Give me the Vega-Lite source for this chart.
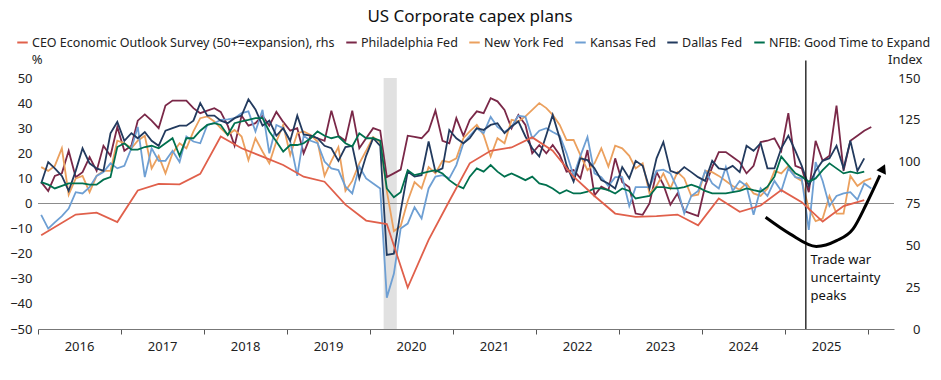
{
"$schema": "https://vega.github.io/schema/vega-lite/v6.json",
"width": 856, "height": 251,
"autosize": {"type": "none"},
"padding": {"left": 38, "top": 78, "right": 47, "bottom": 51},
"background": "white",
"config": {"view": {"stroke": null}, "font": "Noto Sans"},
"title": {"text": "US Corporate capex plans", "fontSize": 17, "fontWeight": "normal", "color": "#111", "anchor": "middle", "offset": 10, "dx": 4},
"datasets": {
"fed": [
{"d":"2016-01-15","s":"P","v":8.5},{"d":"2016-02-15","s":"P","v":5},{"d":"2016-03-15","s":"P","v":11},{"d":"2016-04-15","s":"P","v":12},{"d":"2016-05-15","s":"P","v":21},{"d":"2016-06-15","s":"P","v":10.5},{"d":"2016-07-15","s":"P","v":12.5},{"d":"2016-08-15","s":"P","v":18.5},{"d":"2016-09-15","s":"P","v":13},{"d":"2016-10-15","s":"P","v":23},{"d":"2016-11-15","s":"P","v":19},{"d":"2016-12-15","s":"P","v":30.5},
{"d":"2017-01-15","s":"P","v":21},{"d":"2017-02-15","s":"P","v":23},{"d":"2017-03-15","s":"P","v":33},{"d":"2017-04-15","s":"P","v":35.5},{"d":"2017-05-15","s":"P","v":33},{"d":"2017-06-15","s":"P","v":30},{"d":"2017-07-15","s":"P","v":39},{"d":"2017-08-15","s":"P","v":41},{"d":"2017-09-15","s":"P","v":41},{"d":"2017-10-15","s":"P","v":41},{"d":"2017-11-15","s":"P","v":38},{"d":"2017-12-15","s":"P","v":36},
{"d":"2018-01-15","s":"P","v":37},{"d":"2018-02-15","s":"P","v":38},{"d":"2018-03-15","s":"P","v":36.5},{"d":"2018-04-15","s":"P","v":31},{"d":"2018-05-15","s":"P","v":23},{"d":"2018-06-15","s":"P","v":35},{"d":"2018-07-15","s":"P","v":31},{"d":"2018-08-15","s":"P","v":32},{"d":"2018-09-15","s":"P","v":35},{"d":"2018-10-15","s":"P","v":31},{"d":"2018-11-15","s":"P","v":36.5},{"d":"2018-12-15","s":"P","v":32.5},
{"d":"2019-01-15","s":"P","v":29},{"d":"2019-02-15","s":"P","v":30},{"d":"2019-03-15","s":"P","v":20},{"d":"2019-04-15","s":"P","v":27},{"d":"2019-05-15","s":"P","v":26},{"d":"2019-06-15","s":"P","v":25},{"d":"2019-07-15","s":"P","v":37},{"d":"2019-08-15","s":"P","v":27},{"d":"2019-09-15","s":"P","v":25},{"d":"2019-10-15","s":"P","v":37},{"d":"2019-11-15","s":"P","v":22},{"d":"2019-12-15","s":"P","v":26},
{"d":"2020-01-15","s":"P","v":30},{"d":"2020-02-15","s":"P","v":29},{"d":"2020-03-15","s":"P","v":10.5},{"d":"2020-04-15","s":"P","v":12},{"d":"2020-05-15","s":"P","v":13.5},{"d":"2020-06-15","s":"P","v":27},{"d":"2020-07-15","s":"P","v":26.5},{"d":"2020-08-15","s":"P","v":26},{"d":"2020-09-15","s":"P","v":29},{"d":"2020-10-15","s":"P","v":37},{"d":"2020-11-15","s":"P","v":25},{"d":"2020-12-15","s":"P","v":24},
{"d":"2021-01-15","s":"P","v":34},{"d":"2021-02-15","s":"P","v":27},{"d":"2021-03-15","s":"P","v":33.3},{"d":"2021-04-15","s":"P","v":36.7},{"d":"2021-05-15","s":"P","v":36},{"d":"2021-06-15","s":"P","v":42},{"d":"2021-07-15","s":"P","v":40.7},{"d":"2021-08-15","s":"P","v":37.3},{"d":"2021-09-15","s":"P","v":30},{"d":"2021-10-15","s":"P","v":35.3},{"d":"2021-11-15","s":"P","v":31.3},{"d":"2021-12-15","s":"P","v":20},
{"d":"2022-01-15","s":"P","v":23.3},{"d":"2022-02-15","s":"P","v":20},{"d":"2022-03-15","s":"P","v":23.3},{"d":"2022-04-15","s":"P","v":19.3},{"d":"2022-05-15","s":"P","v":12.7},{"d":"2022-06-15","s":"P","v":13.3},{"d":"2022-07-15","s":"P","v":10},{"d":"2022-08-15","s":"P","v":21.3},{"d":"2022-09-15","s":"P","v":3.3},{"d":"2022-10-15","s":"P","v":6.7},{"d":"2022-11-15","s":"P","v":5.3},{"d":"2022-12-15","s":"P","v":18},
{"d":"2023-01-15","s":"P","v":8.5},{"d":"2023-02-15","s":"P","v":6.5},{"d":"2023-03-15","s":"P","v":-4},{"d":"2023-04-15","s":"P","v":-4.5},{"d":"2023-05-15","s":"P","v":0},{"d":"2023-06-15","s":"P","v":12.5},{"d":"2023-07-15","s":"P","v":7.5},{"d":"2023-08-15","s":"P","v":-0.5},{"d":"2023-09-15","s":"P","v":4},{"d":"2023-10-15","s":"P","v":-3},{"d":"2023-11-15","s":"P","v":-4},{"d":"2023-12-15","s":"P","v":-5},
{"d":"2024-01-15","s":"P","v":7},{"d":"2024-02-15","s":"P","v":14.5},{"d":"2024-03-15","s":"P","v":20.5},{"d":"2024-04-15","s":"P","v":20.5},{"d":"2024-05-15","s":"P","v":18.5},{"d":"2024-06-15","s":"P","v":16.5},{"d":"2024-07-15","s":"P","v":12},{"d":"2024-08-15","s":"P","v":15},{"d":"2024-09-15","s":"P","v":24.5},{"d":"2024-10-15","s":"P","v":25},{"d":"2024-11-15","s":"P","v":26},{"d":"2024-12-15","s":"P","v":21},
{"d":"2025-01-15","s":"P","v":36},{"d":"2025-02-15","s":"P","v":15},{"d":"2025-03-15","s":"P","v":14},{"d":"2025-04-15","s":"P","v":4.5},{"d":"2025-05-15","s":"P","v":25},{"d":"2025-06-15","s":"P","v":17},{"d":"2025-07-15","s":"P","v":19},{"d":"2025-08-15","s":"P","v":39},{"d":"2025-09-15","s":"P","v":13},{"d":"2025-10-15","s":"P","v":25},{"d":"2025-11-15","s":"P","v":27},{"d":"2025-12-15","s":"P","v":29},{"d":"2026-01-15","s":"P","v":30.5},

{"d":"2016-01-15","s":"N","v":14.5},{"d":"2016-02-15","s":"N","v":13},{"d":"2016-03-15","s":"N","v":15},{"d":"2016-04-15","s":"N","v":22},{"d":"2016-05-15","s":"N","v":3.5},{"d":"2016-06-15","s":"N","v":10},{"d":"2016-07-15","s":"N","v":11},{"d":"2016-08-15","s":"N","v":4.5},{"d":"2016-09-15","s":"N","v":11},{"d":"2016-10-15","s":"N","v":13},{"d":"2016-11-15","s":"N","v":13},{"d":"2016-12-15","s":"N","v":25},
{"d":"2017-01-15","s":"N","v":24},{"d":"2017-02-15","s":"N","v":22},{"d":"2017-03-15","s":"N","v":25},{"d":"2017-04-15","s":"N","v":27},{"d":"2017-05-15","s":"N","v":14},{"d":"2017-06-15","s":"N","v":19},{"d":"2017-07-15","s":"N","v":12},{"d":"2017-08-15","s":"N","v":20},{"d":"2017-09-15","s":"N","v":24},{"d":"2017-10-15","s":"N","v":22},{"d":"2017-11-15","s":"N","v":28.7},{"d":"2017-12-15","s":"N","v":34},
{"d":"2018-01-15","s":"N","v":34.7},{"d":"2018-02-15","s":"N","v":32.7},{"d":"2018-03-15","s":"N","v":30},{"d":"2018-04-15","s":"N","v":27.3},{"d":"2018-05-15","s":"N","v":29.3},{"d":"2018-06-15","s":"N","v":26.7},{"d":"2018-07-15","s":"N","v":17.3},{"d":"2018-08-15","s":"N","v":26},{"d":"2018-09-15","s":"N","v":20.7},{"d":"2018-10-15","s":"N","v":16},{"d":"2018-11-15","s":"N","v":24.7},{"d":"2018-12-15","s":"N","v":31.3},
{"d":"2019-01-15","s":"N","v":19.3},{"d":"2019-02-15","s":"N","v":28},{"d":"2019-03-15","s":"N","v":28.7},{"d":"2019-04-15","s":"N","v":27.3},{"d":"2019-05-15","s":"N","v":24.7},{"d":"2019-06-15","s":"N","v":11},{"d":"2019-07-15","s":"N","v":17},{"d":"2019-08-15","s":"N","v":22.5},{"d":"2019-09-15","s":"N","v":5},{"d":"2019-10-15","s":"N","v":9},{"d":"2019-11-15","s":"N","v":16},{"d":"2019-12-15","s":"N","v":21},
{"d":"2020-01-15","s":"N","v":26.5},{"d":"2020-02-15","s":"N","v":24.5},{"d":"2020-03-15","s":"N","v":5},{"d":"2020-04-15","s":"N","v":-11},{"d":"2020-05-15","s":"N","v":-9},{"d":"2020-06-15","s":"N","v":1},{"d":"2020-07-15","s":"N","v":8.5},{"d":"2020-08-15","s":"N","v":6},{"d":"2020-09-15","s":"N","v":14.5},{"d":"2020-10-15","s":"N","v":12},{"d":"2020-11-15","s":"N","v":17},{"d":"2020-12-15","s":"N","v":16.5},
{"d":"2021-01-15","s":"N","v":18},{"d":"2021-02-15","s":"N","v":26},{"d":"2021-03-15","s":"N","v":28.7},{"d":"2021-04-15","s":"N","v":31.3},{"d":"2021-05-15","s":"N","v":27.3},{"d":"2021-06-15","s":"N","v":18.7},{"d":"2021-07-15","s":"N","v":26},{"d":"2021-08-15","s":"N","v":24},{"d":"2021-09-15","s":"N","v":33.3},{"d":"2021-10-15","s":"N","v":32.7},{"d":"2021-11-15","s":"N","v":34.7},{"d":"2021-12-15","s":"N","v":37.3},
{"d":"2022-01-15","s":"N","v":40},{"d":"2022-02-15","s":"N","v":38},{"d":"2022-03-15","s":"N","v":35.3},{"d":"2022-04-15","s":"N","v":31.3},{"d":"2022-05-15","s":"N","v":25.3},{"d":"2022-06-15","s":"N","v":25.3},{"d":"2022-07-15","s":"N","v":19.3},{"d":"2022-08-15","s":"N","v":13.3},{"d":"2022-09-15","s":"N","v":16},{"d":"2022-10-15","s":"N","v":22},{"d":"2022-11-15","s":"N","v":14.7},{"d":"2022-12-15","s":"N","v":23},
{"d":"2023-01-15","s":"N","v":22},{"d":"2023-02-15","s":"N","v":19},{"d":"2023-03-15","s":"N","v":14},{"d":"2023-04-15","s":"N","v":16},{"d":"2023-05-15","s":"N","v":4},{"d":"2023-06-15","s":"N","v":7},{"d":"2023-07-15","s":"N","v":12},{"d":"2023-08-15","s":"N","v":6},{"d":"2023-09-15","s":"N","v":12.5},{"d":"2023-10-15","s":"N","v":10},{"d":"2023-11-15","s":"N","v":3},{"d":"2023-12-15","s":"N","v":3.5},
{"d":"2024-01-15","s":"N","v":13},{"d":"2024-02-15","s":"N","v":12.5},{"d":"2024-03-15","s":"N","v":11},{"d":"2024-04-15","s":"N","v":9},{"d":"2024-05-15","s":"N","v":7},{"d":"2024-06-15","s":"N","v":5.5},{"d":"2024-07-15","s":"N","v":8},{"d":"2024-08-15","s":"N","v":4},{"d":"2024-09-15","s":"N","v":3},{"d":"2024-10-15","s":"N","v":6},{"d":"2024-11-15","s":"N","v":13},{"d":"2024-12-15","s":"N","v":12},
{"d":"2025-01-15","s":"N","v":15},{"d":"2025-02-15","s":"N","v":10.5},{"d":"2025-03-15","s":"N","v":9},{"d":"2025-04-15","s":"N","v":-2},{"d":"2025-05-15","s":"N","v":-7},{"d":"2025-06-15","s":"N","v":-6},{"d":"2025-07-15","s":"N","v":3},{"d":"2025-08-15","s":"N","v":-4},{"d":"2025-09-15","s":"N","v":-4},{"d":"2025-10-15","s":"N","v":11},{"d":"2025-11-15","s":"N","v":7},{"d":"2025-12-15","s":"N","v":9},{"d":"2026-01-15","s":"N","v":10},

{"d":"2016-01-15","s":"K","v":-4.5},{"d":"2016-02-15","s":"K","v":-10},{"d":"2016-03-15","s":"K","v":-7.5},{"d":"2016-04-15","s":"K","v":-5},{"d":"2016-05-15","s":"K","v":-2},{"d":"2016-06-15","s":"K","v":4.5},{"d":"2016-07-15","s":"K","v":4},{"d":"2016-08-15","s":"K","v":6.5},{"d":"2016-09-15","s":"K","v":11},{"d":"2016-10-15","s":"K","v":12.5},{"d":"2016-11-15","s":"K","v":16},{"d":"2016-12-15","s":"K","v":14},
{"d":"2017-01-15","s":"K","v":15},{"d":"2017-02-15","s":"K","v":22},{"d":"2017-03-15","s":"K","v":30.5},{"d":"2017-04-15","s":"K","v":10.5},{"d":"2017-05-15","s":"K","v":22},{"d":"2017-06-15","s":"K","v":17},{"d":"2017-07-15","s":"K","v":17},{"d":"2017-08-15","s":"K","v":21},{"d":"2017-09-15","s":"K","v":16.5},{"d":"2017-10-15","s":"K","v":26.7},{"d":"2017-11-15","s":"K","v":24.7},{"d":"2017-12-15","s":"K","v":24},
{"d":"2018-01-15","s":"K","v":31.3},{"d":"2018-02-15","s":"K","v":32},{"d":"2018-03-15","s":"K","v":33.3},{"d":"2018-04-15","s":"K","v":33.5},{"d":"2018-05-15","s":"K","v":34},{"d":"2018-06-15","s":"K","v":36},{"d":"2018-07-15","s":"K","v":36.7},{"d":"2018-08-15","s":"K","v":28.7},{"d":"2018-09-15","s":"K","v":37.3},{"d":"2018-10-15","s":"K","v":20},{"d":"2018-11-15","s":"K","v":31.3},{"d":"2018-12-15","s":"K","v":30},
{"d":"2019-01-15","s":"K","v":24.7},{"d":"2019-02-15","s":"K","v":11},{"d":"2019-03-15","s":"K","v":27},{"d":"2019-04-15","s":"K","v":25},{"d":"2019-05-15","s":"K","v":24},{"d":"2019-06-15","s":"K","v":16.7},{"d":"2019-07-15","s":"K","v":14},{"d":"2019-08-15","s":"K","v":13.3},{"d":"2019-09-15","s":"K","v":6.7},{"d":"2019-10-15","s":"K","v":4},{"d":"2019-11-15","s":"K","v":14.7},{"d":"2019-12-15","s":"K","v":10},
{"d":"2020-01-15","s":"K","v":8},{"d":"2020-02-15","s":"K","v":6},{"d":"2020-03-15","s":"K","v":-37.5},{"d":"2020-04-15","s":"K","v":-28},{"d":"2020-05-15","s":"K","v":-10},{"d":"2020-06-15","s":"K","v":-8},{"d":"2020-07-15","s":"K","v":-1.5},{"d":"2020-08-15","s":"K","v":-6},{"d":"2020-09-15","s":"K","v":6},{"d":"2020-10-15","s":"K","v":10.7},{"d":"2020-11-15","s":"K","v":11.3},{"d":"2020-12-15","s":"K","v":10},
{"d":"2021-01-15","s":"K","v":15.3},{"d":"2021-02-15","s":"K","v":24},{"d":"2021-03-15","s":"K","v":27},{"d":"2021-04-15","s":"K","v":30},{"d":"2021-05-15","s":"K","v":28},{"d":"2021-06-15","s":"K","v":34.5},{"d":"2021-07-15","s":"K","v":30.5},{"d":"2021-08-15","s":"K","v":28.5},{"d":"2021-09-15","s":"K","v":30.5},{"d":"2021-10-15","s":"K","v":35},{"d":"2021-11-15","s":"K","v":34.5},{"d":"2021-12-15","s":"K","v":26},
{"d":"2022-01-15","s":"K","v":29},{"d":"2022-02-15","s":"K","v":30},{"d":"2022-03-15","s":"K","v":28.5},{"d":"2022-04-15","s":"K","v":27},{"d":"2022-05-15","s":"K","v":20},{"d":"2022-06-15","s":"K","v":11},{"d":"2022-07-15","s":"K","v":19},{"d":"2022-08-15","s":"K","v":26.5},{"d":"2022-09-15","s":"K","v":12},{"d":"2022-10-15","s":"K","v":10.5},{"d":"2022-11-15","s":"K","v":7},{"d":"2022-12-15","s":"K","v":10.5},
{"d":"2023-01-15","s":"K","v":10.5},{"d":"2023-02-15","s":"K","v":-1},{"d":"2023-03-15","s":"K","v":6.5},{"d":"2023-04-15","s":"K","v":6.5},{"d":"2023-05-15","s":"K","v":6.5},{"d":"2023-06-15","s":"K","v":13},{"d":"2023-07-15","s":"K","v":13.5},{"d":"2023-08-15","s":"K","v":12},{"d":"2023-09-15","s":"K","v":6},{"d":"2023-10-15","s":"K","v":-4},{"d":"2023-11-15","s":"K","v":3},{"d":"2023-12-15","s":"K","v":5},
{"d":"2024-01-15","s":"K","v":13},{"d":"2024-02-15","s":"K","v":8},{"d":"2024-03-15","s":"K","v":6},{"d":"2024-04-15","s":"K","v":14.5},{"d":"2024-05-15","s":"K","v":5},{"d":"2024-06-15","s":"K","v":9},{"d":"2024-07-15","s":"K","v":7},{"d":"2024-08-15","s":"K","v":-4.5},{"d":"2024-09-15","s":"K","v":6},{"d":"2024-10-15","s":"K","v":3},{"d":"2024-11-15","s":"K","v":9},{"d":"2024-12-15","s":"K","v":5},
{"d":"2025-01-15","s":"K","v":14},{"d":"2025-02-15","s":"K","v":10.5},{"d":"2025-03-15","s":"K","v":10},{"d":"2025-04-15","s":"K","v":-10.5},{"d":"2025-05-15","s":"K","v":16.5},{"d":"2025-06-15","s":"K","v":9},{"d":"2025-07-15","s":"K","v":-1},{"d":"2025-08-15","s":"K","v":3},{"d":"2025-09-15","s":"K","v":4},{"d":"2025-10-15","s":"K","v":4.5},{"d":"2025-11-15","s":"K","v":1.5},{"d":"2025-12-15","s":"K","v":8},{"d":"2026-01-15","s":"K","v":6},

{"d":"2016-01-15","s":"D","v":8},{"d":"2016-02-15","s":"D","v":16.5},{"d":"2016-03-15","s":"D","v":14},{"d":"2016-04-15","s":"D","v":11},{"d":"2016-05-15","s":"D","v":5},{"d":"2016-06-15","s":"D","v":13},{"d":"2016-07-15","s":"D","v":22},{"d":"2016-08-15","s":"D","v":16},{"d":"2016-09-15","s":"D","v":14},{"d":"2016-10-15","s":"D","v":13},{"d":"2016-11-15","s":"D","v":28},{"d":"2016-12-15","s":"D","v":32.5},
{"d":"2017-01-15","s":"D","v":25},{"d":"2017-02-15","s":"D","v":28},{"d":"2017-03-15","s":"D","v":26},{"d":"2017-04-15","s":"D","v":28.5},{"d":"2017-05-15","s":"D","v":25},{"d":"2017-06-15","s":"D","v":23},{"d":"2017-07-15","s":"D","v":29},{"d":"2017-08-15","s":"D","v":30},{"d":"2017-09-15","s":"D","v":31},{"d":"2017-10-15","s":"D","v":31},{"d":"2017-11-15","s":"D","v":33},{"d":"2017-12-15","s":"D","v":40},
{"d":"2018-01-15","s":"D","v":35},{"d":"2018-02-15","s":"D","v":35},{"d":"2018-03-15","s":"D","v":33},{"d":"2018-04-15","s":"D","v":32},{"d":"2018-05-15","s":"D","v":34},{"d":"2018-06-15","s":"D","v":35},{"d":"2018-07-15","s":"D","v":41.5},{"d":"2018-08-15","s":"D","v":37.5},{"d":"2018-09-15","s":"D","v":31},{"d":"2018-10-15","s":"D","v":33},{"d":"2018-11-15","s":"D","v":27},{"d":"2018-12-15","s":"D","v":30},
{"d":"2019-01-15","s":"D","v":25},{"d":"2019-02-15","s":"D","v":35},{"d":"2019-03-15","s":"D","v":27.5},{"d":"2019-04-15","s":"D","v":27},{"d":"2019-05-15","s":"D","v":26},{"d":"2019-06-15","s":"D","v":23},{"d":"2019-07-15","s":"D","v":22},{"d":"2019-08-15","s":"D","v":17},{"d":"2019-09-15","s":"D","v":22.5},{"d":"2019-10-15","s":"D","v":23},{"d":"2019-11-15","s":"D","v":10},{"d":"2019-12-15","s":"D","v":19},
{"d":"2020-01-15","s":"D","v":26},{"d":"2020-02-15","s":"D","v":23},{"d":"2020-03-15","s":"D","v":-20.5},{"d":"2020-04-15","s":"D","v":-20},{"d":"2020-05-15","s":"D","v":-3},{"d":"2020-06-15","s":"D","v":12.7},{"d":"2020-07-15","s":"D","v":10.7},{"d":"2020-08-15","s":"D","v":11.3},{"d":"2020-09-15","s":"D","v":24.7},{"d":"2020-10-15","s":"D","v":12.7},{"d":"2020-11-15","s":"D","v":14},{"d":"2020-12-15","s":"D","v":29.3},
{"d":"2021-01-15","s":"D","v":26},{"d":"2021-02-15","s":"D","v":24},{"d":"2021-03-15","s":"D","v":26},{"d":"2021-04-15","s":"D","v":30},{"d":"2021-05-15","s":"D","v":29.3},{"d":"2021-06-15","s":"D","v":31.3},{"d":"2021-07-15","s":"D","v":32},{"d":"2021-08-15","s":"D","v":28},{"d":"2021-09-15","s":"D","v":30.7},{"d":"2021-10-15","s":"D","v":32.7},{"d":"2021-11-15","s":"D","v":26.7},{"d":"2021-12-15","s":"D","v":22},
{"d":"2022-01-15","s":"D","v":18.7},{"d":"2022-02-15","s":"D","v":27.3},{"d":"2022-03-15","s":"D","v":35.3},{"d":"2022-04-15","s":"D","v":26},{"d":"2022-05-15","s":"D","v":15.3},{"d":"2022-06-15","s":"D","v":8.7},{"d":"2022-07-15","s":"D","v":18},{"d":"2022-08-15","s":"D","v":17.3},{"d":"2022-09-15","s":"D","v":14},{"d":"2022-10-15","s":"D","v":9.3},{"d":"2022-11-15","s":"D","v":8},{"d":"2022-12-15","s":"D","v":6},
{"d":"2023-01-15","s":"D","v":14.5},{"d":"2023-02-15","s":"D","v":10},{"d":"2023-03-15","s":"D","v":17},{"d":"2023-04-15","s":"D","v":15},{"d":"2023-05-15","s":"D","v":6},{"d":"2023-06-15","s":"D","v":18},{"d":"2023-07-15","s":"D","v":24.5},{"d":"2023-08-15","s":"D","v":13},{"d":"2023-09-15","s":"D","v":12},{"d":"2023-10-15","s":"D","v":14.5},{"d":"2023-11-15","s":"D","v":12.5},{"d":"2023-12-15","s":"D","v":10.5},
{"d":"2024-01-15","s":"D","v":9},{"d":"2024-02-15","s":"D","v":17},{"d":"2024-03-15","s":"D","v":14},{"d":"2024-04-15","s":"D","v":13.5},{"d":"2024-05-15","s":"D","v":15},{"d":"2024-06-15","s":"D","v":12.5},{"d":"2024-07-15","s":"D","v":23},{"d":"2024-08-15","s":"D","v":21},{"d":"2024-09-15","s":"D","v":24},{"d":"2024-10-15","s":"D","v":14},{"d":"2024-11-15","s":"D","v":14},{"d":"2024-12-15","s":"D","v":22},
{"d":"2025-01-15","s":"D","v":27},{"d":"2025-02-15","s":"D","v":21},{"d":"2025-03-15","s":"D","v":15},{"d":"2025-04-15","s":"D","v":7},{"d":"2025-05-15","s":"D","v":13},{"d":"2025-06-15","s":"D","v":17},{"d":"2025-07-15","s":"D","v":18},{"d":"2025-08-15","s":"D","v":23},{"d":"2025-09-15","s":"D","v":14},{"d":"2025-10-15","s":"D","v":25},{"d":"2025-11-15","s":"D","v":13},{"d":"2025-12-15","s":"D","v":18},

{"d":"2016-01-15","s":"F","v":8.5},{"d":"2016-02-15","s":"F","v":7.5},{"d":"2016-03-15","s":"F","v":6},{"d":"2016-04-15","s":"F","v":7},{"d":"2016-05-15","s":"F","v":8},{"d":"2016-06-15","s":"F","v":8},{"d":"2016-07-15","s":"F","v":8},{"d":"2016-08-15","s":"F","v":7.5},{"d":"2016-09-15","s":"F","v":7.5},{"d":"2016-10-15","s":"F","v":9.5},{"d":"2016-11-15","s":"F","v":10.5},{"d":"2016-12-15","s":"F","v":22.5},
{"d":"2017-01-15","s":"F","v":24},{"d":"2017-02-15","s":"F","v":21.5},{"d":"2017-03-15","s":"F","v":21.5},{"d":"2017-04-15","s":"F","v":22.5},{"d":"2017-05-15","s":"F","v":23},{"d":"2017-06-15","s":"F","v":22},{"d":"2017-07-15","s":"F","v":24},{"d":"2017-08-15","s":"F","v":26},{"d":"2017-09-15","s":"F","v":19},{"d":"2017-10-15","s":"F","v":26},{"d":"2017-11-15","s":"F","v":26},{"d":"2017-12-15","s":"F","v":29},
{"d":"2018-01-15","s":"F","v":31.3},{"d":"2018-02-15","s":"F","v":32},{"d":"2018-03-15","s":"F","v":31.3},{"d":"2018-04-15","s":"F","v":27.3},{"d":"2018-05-15","s":"F","v":32},{"d":"2018-06-15","s":"F","v":32.7},{"d":"2018-07-15","s":"F","v":33.3},{"d":"2018-08-15","s":"F","v":34},{"d":"2018-09-15","s":"F","v":34},{"d":"2018-10-15","s":"F","v":28.7},{"d":"2018-11-15","s":"F","v":24.7},{"d":"2018-12-15","s":"F","v":20.7},
{"d":"2019-01-15","s":"F","v":23.3},{"d":"2019-02-15","s":"F","v":23.3},{"d":"2019-03-15","s":"F","v":24},{"d":"2019-04-15","s":"F","v":26},{"d":"2019-05-15","s":"F","v":28.7},{"d":"2019-06-15","s":"F","v":27},{"d":"2019-07-15","s":"F","v":26},{"d":"2019-08-15","s":"F","v":26.7},{"d":"2019-09-15","s":"F","v":24},{"d":"2019-10-15","s":"F","v":22.7},{"d":"2019-11-15","s":"F","v":28},{"d":"2019-12-15","s":"F","v":26},
{"d":"2020-01-15","s":"F","v":26},{"d":"2020-02-15","s":"F","v":25},{"d":"2020-03-15","s":"F","v":6},{"d":"2020-04-15","s":"F","v":2.5},{"d":"2020-05-15","s":"F","v":4.5},{"d":"2020-06-15","s":"F","v":13.3},{"d":"2020-07-15","s":"F","v":11.3},{"d":"2020-08-15","s":"F","v":12},{"d":"2020-09-15","s":"F","v":12.7},{"d":"2020-10-15","s":"F","v":13.3},{"d":"2020-11-15","s":"F","v":12},{"d":"2020-12-15","s":"F","v":9.3},
{"d":"2021-01-15","s":"F","v":7.3},{"d":"2021-02-15","s":"F","v":6},{"d":"2021-03-15","s":"F","v":10.7},{"d":"2021-04-15","s":"F","v":14},{"d":"2021-05-15","s":"F","v":12.7},{"d":"2021-06-15","s":"F","v":15.3},{"d":"2021-07-15","s":"F","v":12.7},{"d":"2021-08-15","s":"F","v":10.7},{"d":"2021-09-15","s":"F","v":12},{"d":"2021-10-15","s":"F","v":10.7},{"d":"2021-11-15","s":"F","v":9.3},{"d":"2021-12-15","s":"F","v":10.7},
{"d":"2022-01-15","s":"F","v":8},{"d":"2022-02-15","s":"F","v":7.3},{"d":"2022-03-15","s":"F","v":6},{"d":"2022-04-15","s":"F","v":4},{"d":"2022-05-15","s":"F","v":5.3},{"d":"2022-06-15","s":"F","v":4},{"d":"2022-07-15","s":"F","v":4},{"d":"2022-08-15","s":"F","v":4.7},{"d":"2022-09-15","s":"F","v":6},{"d":"2022-10-15","s":"F","v":6},{"d":"2022-11-15","s":"F","v":5.3},{"d":"2022-12-15","s":"F","v":4},
{"d":"2023-01-15","s":"F","v":6},{"d":"2023-02-15","s":"F","v":5},{"d":"2023-03-15","s":"F","v":2},{"d":"2023-04-15","s":"F","v":2.5},{"d":"2023-05-15","s":"F","v":3},{"d":"2023-06-15","s":"F","v":6.5},{"d":"2023-07-15","s":"F","v":6.5},{"d":"2023-08-15","s":"F","v":6},{"d":"2023-09-15","s":"F","v":6},{"d":"2023-10-15","s":"F","v":6.5},{"d":"2023-11-15","s":"F","v":7.5},{"d":"2023-12-15","s":"F","v":6.5},
{"d":"2024-01-15","s":"F","v":5},{"d":"2024-02-15","s":"F","v":4},{"d":"2024-03-15","s":"F","v":4},{"d":"2024-04-15","s":"F","v":4},{"d":"2024-05-15","s":"F","v":4.5},{"d":"2024-06-15","s":"F","v":5},{"d":"2024-07-15","s":"F","v":6},{"d":"2024-08-15","s":"F","v":5.3},{"d":"2024-09-15","s":"F","v":4.7},{"d":"2024-10-15","s":"F","v":6.7},{"d":"2024-11-15","s":"F","v":10.7},{"d":"2024-12-15","s":"F","v":18.7},
{"d":"2025-01-15","s":"F","v":15.3},{"d":"2025-02-15","s":"F","v":12},{"d":"2025-03-15","s":"F","v":10.7},{"d":"2025-04-15","s":"F","v":8.7},{"d":"2025-05-15","s":"F","v":10},{"d":"2025-06-15","s":"F","v":13.3},{"d":"2025-07-15","s":"F","v":16},{"d":"2025-08-15","s":"F","v":14},{"d":"2025-09-15","s":"F","v":12},{"d":"2025-10-15","s":"F","v":12.7},{"d":"2025-11-15","s":"F","v":12},{"d":"2025-12-15","s":"F","v":12.7}
],
"ceo": [
{"d":"2016-01-15","s":"C","v":56},{"d":"2016-06-15","s":"C","v":68.4},{"d":"2016-09-15","s":"C","v":69.5},{"d":"2016-12-15","s":"C","v":63.9},
{"d":"2017-03-15","s":"C","v":82.8},{"d":"2017-06-15","s":"C","v":86.7},{"d":"2017-09-15","s":"C","v":86.4},{"d":"2017-12-15","s":"C","v":92.7},
{"d":"2018-03-15","s":"C","v":115},{"d":"2018-06-15","s":"C","v":108},{"d":"2018-09-15","s":"C","v":103},{"d":"2018-12-15","s":"C","v":98},
{"d":"2019-03-15","s":"C","v":91},{"d":"2019-06-15","s":"C","v":88},{"d":"2019-09-15","s":"C","v":74.3},{"d":"2019-12-15","s":"C","v":64.8},
{"d":"2020-03-15","s":"C","v":62.7},{"d":"2020-06-15","s":"C","v":24.8},{"d":"2020-09-15","s":"C","v":53.3},{"d":"2020-12-15","s":"C","v":76.5},
{"d":"2021-03-15","s":"C","v":99},{"d":"2021-06-15","s":"C","v":106.5},{"d":"2021-09-15","s":"C","v":108.5},{"d":"2021-12-15","s":"C","v":114.5},
{"d":"2022-03-15","s":"C","v":106.5},{"d":"2022-06-15","s":"C","v":91},{"d":"2022-09-15","s":"C","v":79.5},{"d":"2022-12-15","s":"C","v":69},
{"d":"2023-03-15","s":"C","v":67},{"d":"2023-06-15","s":"C","v":67.5},{"d":"2023-09-15","s":"C","v":68.4},{"d":"2023-12-15","s":"C","v":62},
{"d":"2024-03-15","s":"C","v":78},{"d":"2024-06-15","s":"C","v":70},{"d":"2024-09-15","s":"C","v":73.8},{"d":"2024-12-15","s":"C","v":83},
{"d":"2025-03-15","s":"C","v":75.8},{"d":"2025-06-15","s":"C","v":64.2},{"d":"2025-09-15","s":"C","v":73.5},{"d":"2025-12-15","s":"C","v":77}
],
"arrow": [
{"t":"2024-10-07","v":-5.5},{"t":"2025-01-22","v":-12.1},{"t":"2025-05-18","v":-17.1},{"t":"2025-08-15","v":-14.8},{"t":"2025-10-27","v":-10.1},{"t":"2025-12-25","v":-0.1},{"t":"2026-02-22","v":11.2}
]
},
"layer": [
{
"layer": [
{"data": {"values": [{"a": "2020-03-01", "b": "2020-04-28"}]},
 "mark": {"type": "rect", "color": "#e1e1e1"},
 "encoding": {"x": {"field": "a", "type": "temporal"}, "x2": {"field": "b"}}},
{"data": {"values": [{}]},
 "mark": {"type": "rule", "color": "#8c8c8c", "strokeWidth": 1},
 "encoding": {"y": {"datum": 0, "type": "quantitative"}}},
{"data": {"name": "fed"},
 "mark": {"type": "line", "strokeWidth": 1.8},
 "encoding": {
  "x": {"field": "d", "type": "temporal",
   "scale": {"domain": [{"year": 2016, "month": 1, "date": 1}, {"year": 2026, "month": 4, "date": 25}]},
   "axis": {"values": [{"year":2016,"month":1,"date":1},{"year":2017,"month":1,"date":1},{"year":2018,"month":1,"date":1},{"year":2019,"month":1,"date":1},{"year":2020,"month":1,"date":1},{"year":2021,"month":1,"date":1},{"year":2022,"month":1,"date":1},{"year":2023,"month":1,"date":1},{"year":2024,"month":1,"date":1},{"year":2025,"month":1,"date":1},{"year":2026,"month":1,"date":1}],
    "tickCount": 30,
    "labelExpr": "year(datum.value) > 2025 ? '' : timeFormat(datum.value, '%Y')",
    "labelOffset": 41, "labelFontSize": 13, "labelPadding": 6, "labelColor": "#222",
    "tickSize": 5, "tickColor": "#555", "domainColor": "#777", "grid": false, "title": null,
    "labelBound": false, "labelOverlap": false, "labelFlush": false}},
  "y": {"field": "v", "type": "quantitative",
   "scale": {"domain": [-50, 50], "nice": false, "zero": false},
   "axis": {"values": [-50,-40,-30,-20,-10,0,10,20,30,40,50], "tickCount": 20, "title": "%", "titleAngle": 0, "titleX": 4, "titleY": -15,
    "titleAlign": "right", "titleBaseline": "alphabetic", "titleFontSize": 13, "titleFontWeight": "normal", "titleColor": "#222",
    "labelFontSize": 13, "labelColor": "#222", "labelPadding": 6, "labelOverlap": false, "labelBound": false, "labelFlush": false,
    "ticks": false, "domain": false, "grid": false}},
  "color": {"field": "s", "type": "nominal",
   "scale": {"domain": ["C","P","N","K","D","F"], "range": ["#E0604B","#7A2848","#EBA05E","#6E9FD3","#223A5E","#00704E"]},
   "legend": {"orient": "none", "legendX": -22, "legendY": -42, "direction": "horizontal", "title": null,
    "symbolType": "stroke", "symbolStrokeWidth": 2, "symbolSize": 110, "labelFontSize": 12.5, "labelColor": "#222",
    "labelLimit": 400, "columnPadding": 7, "labelOffset": 3,
    "labelExpr": "datum.label == 'C' ? 'CEO Economic Outlook Survey (50+=expansion), rhs' : datum.label == 'P' ? 'Philadelphia Fed' : datum.label == 'N' ? 'New York Fed' : datum.label == 'K' ? 'Kansas Fed' : datum.label == 'D' ? 'Dallas Fed' : 'NFIB: Good Time to Expand'"}}
 }},
{"data": {"values": [{}]},
 "mark": {"type": "rule", "color": "#111", "strokeWidth": 1.3},
 "encoding": {"x": {"datum": {"year": 2025, "month": 4, "date": 2}, "type": "temporal"},
  "y": {"datum": 57, "type": "quantitative"}, "y2": {"datum": -50}}},
{"data": {"values": [{}]},
 "mark": {"type": "text", "text": ["Trade war", "uncertainty", "peaks"], "align": "left", "baseline": "top", "fontSize": 13, "lineHeight": 18, "color": "#111"},
 "encoding": {"x": {"datum": {"year": 2025, "month": 4, "date": 23}, "type": "temporal"},
  "y": {"datum": -20, "type": "quantitative"}}},
{"data": {"name": "arrow"},
 "mark": {"type": "line", "color": "#000", "strokeWidth": 3, "interpolate": "monotone"},
 "encoding": {"x": {"field": "t", "type": "temporal"}, "y": {"field": "v", "type": "quantitative"}}},
{"data": {"values": [{"t": "2026-03-08", "v": 14}]},
 "mark": {"type": "point", "shape": "triangle-up", "filled": true, "color": "#000", "size": 110, "angle": 25, "opacity": 1},
 "encoding": {"x": {"field": "t", "type": "temporal"}, "y": {"field": "v", "type": "quantitative"}}}
]
},
{"data": {"name": "ceo"},
 "mark": {"type": "line", "strokeWidth": 1.8},
 "encoding": {
  "x": {"field": "d", "type": "temporal"},
  "y": {"field": "v", "type": "quantitative",
   "scale": {"domain": [0, 150], "nice": false, "zero": false},
   "axis": {"orient": "right", "values": [0,25,50,75,100,125,150], "tickCount": 20, "title": "Index", "titleAngle": 0, "titleX": 28, "titleY": -15,
    "titleAlign": "right", "titleBaseline": "alphabetic", "titleFontSize": 13, "titleFontWeight": "normal", "titleColor": "#222",
    "labelFontSize": 13, "labelColor": "#222", "labelAlign": "right", "labelPadding": 26, "labelOverlap": false, "ticks": false, "domain": false, "grid": false}},
  "color": {"field": "s", "type": "nominal"}
 }}
],
"resolve": {"scale": {"y": "independent"}}
}
